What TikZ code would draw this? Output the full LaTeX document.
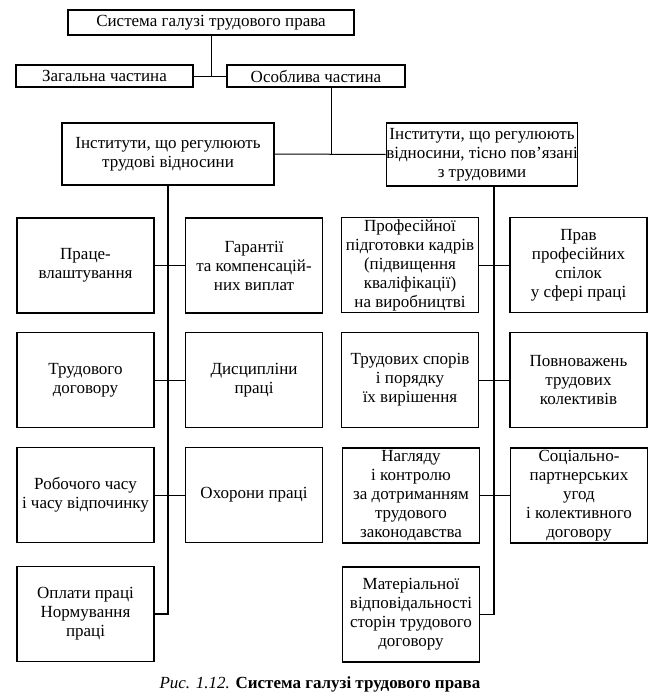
\documentclass[tikz,border=0pt]{standalone}
\usepackage{fontspec}
\setmainfont{Liberation Serif}

\begin{document}
\begin{tikzpicture}[x=1pt, y=-1pt,
    box/.style={draw, line width=1.3pt, align=center, inner sep=0pt, font=\fontsize{17}{19}\selectfont},
    cell/.style={box, minimum width=137pt, minimum height=95pt},
    link/.style={line width=1pt},
    spine/.style={line width=1.4pt}]

            \useasboundingbox (0,0) rectangle (660,696);

            \node[box, minimum width=286pt, minimum height=25pt] (sys) at (211,22.5) {Система галузі трудового права};
            \node[box, minimum width=177pt, minimum height=22pt] (gen) at (104.5,76) {Загальна частина};
            \node[box, minimum width=178pt, minimum height=22pt] (spec) at (316,76) {Особлива частина};

            \node[box, minimum width=212pt, minimum height=62pt] (instL) at (168,154) {Інститути, що регулюють\\трудові відносини};
            \node[box, minimum width=190pt, minimum height=63pt] (instR) at (482,154.5) {Інститути, що регулюють\\відносини, тісно пов’язані\\з трудовими};

            \node[cell] (job) at (85.5,265.5) {Праце-\\влаштування};
            \node[cell] (guar) at (254,265.5) {Гарантії\\та компенсацій-\\них виплат};
            \node[cell] (contr) at (85.5,380) {Трудового\\договору};
            \node[cell] (disc) at (254,380) {Дисципліни\\праці};
            \node[cell] (time) at (85.5,495) {Робочого часу\\і часу відпочинку};
            \node[cell] (safe) at (254,495) {Охорони праці};
            \node[cell] (pay) at (85.5,614) {Оплати праці\\Нормування\\праці};

            \node[cell] (train) at (410,265) {Професійної\\підготовки кадрів\\(підвищення\\кваліфікації)\\на виробництві};
            \node[cell] (union) at (578.5,265) {Прав\\професійних\\спілок\\у сфері праці};
            \node[cell] (disp) at (410,380) {Трудових спорів\\і порядку\\їх вирішення};
            \node[cell] (coll) at (578.5,380) {Повноважень\\трудових\\колективів};
            \node[cell] (supv) at (411,495.5) {Нагляду\\і контролю\\за дотриманням\\трудового\\законодавства};
            \node[cell] (agr) at (579,495.5) {Соціально-\\партнерських\\угод\\і колективного\\договору};
            \node[cell] (mat) at (411,614.5) {Матеріальної\\відповідальності\\сторін трудового\\договору};

            \coordinate (split) at (331,154);
            \coordinate (spineR) at (494,0);

            \draw[link] (gen.east) -- (spec.west);
            \draw[link] (sys.south) -- (sys.south |- gen.east);
            \draw[link] (spec.south -| split) -- (split);
            \draw[link] (instL.east) -- (instR.west);

            \draw[spine] (instL.south) -- (instL.south |- pay.east) -- (pay.east);
            \draw[link] (job.east) -- (guar.west);
            \draw[link] (contr.east) -- (disc.west);
            \draw[link] (time.east) -- (safe.west);

            \draw[spine] (instR.south -| spineR) -- (spineR |- mat.east) -- (mat.east);
            \draw[link] (train.east) -- (union.west);
            \draw[link] (disp.east) -- (coll.west);
            \draw[link] (supv.east) -- (agr.west);

            \node[font=\fontsize{17}{19}\selectfont] (cap) at (320,684) {\textit{Рис. 1.12.} \textbf{Система галузі трудового права}};

          \end{tikzpicture}
\end{document}
